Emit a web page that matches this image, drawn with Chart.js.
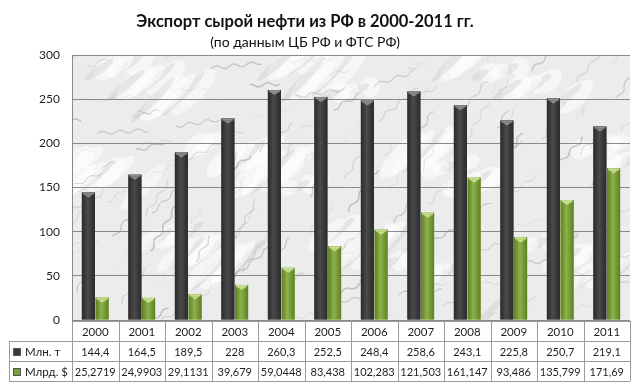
<!DOCTYPE html>
<html>
<head>
<meta charset="utf-8">
<script src="https://cdn.jsdelivr.net/npm/chart.js@4.4.1/dist/chart.umd.min.js"></script>
<style>
    html, body { margin: 0; padding: 0; background: #ffffff; }
    #wrap { width: 640px; height: 389px; position: relative; }
</style>
</head>
<body>
<div id="wrap"><canvas id="oilChart"></canvas></div>
<script>
// Data
const YEARS = ['2000', '2001', '2002', '2003', '2004', '2005', '2006', '2007', '2008', '2009', '2010', '2011'];
const MLN_T = [144.4, 164.5, 189.5, 228, 260.3, 252.5, 248.4, 258.6, 243.1, 225.8, 250.7, 219.1];
const MLRD_USD = [25.2719, 24.9903, 29.1131, 39.679, 59.0448, 83.438, 102.283, 121.503, 161.147, 93.486, 135.799, 171.69];
const SERIES_NAMES = ['Млн. т', 'Млрд. $'];
const Y_MAX = 300;
const Y_STEP = 50;
const TITLE = 'Экспорт сырой нефти из РФ в 2000-2011 гг.';
const SUBTITLE = '(по данным ЦБ РФ и ФТС РФ)';

const FONT = 'Lato, "Open Sans", sans-serif';

// Bar colours
const BAR_STYLES = [
    { edge: '#2a2a2a', mid: '#4a4a4a', cap: '#8c8c8c', key: '#3a3a3a' },
    { edge: '#5f7f24', mid: '#8db24a', cap: '#c4de8e', key: '#77a03a' }
];

// Marble-like texture for the plot area (decoration only)
function makeMarble(w, h) {
    const c = document.createElement('canvas');
    c.width = w; c.height = h;
    const g = c.getContext('2d');
    g.fillStyle = '#ececec';
    g.fillRect(0, 0, w, h);
    // cloudy patches
    for (let k = 0; k < 140; k++) {
        const cx = (k * 137) % w;
        const cy = (k * 71 + (k % 5) * 17) % h;
        g.fillStyle = k % 3 === 0 ? 'rgba(175,175,175,0.22)' : 'rgba(255,255,255,0.5)';
        g.beginPath();
        g.ellipse(cx, cy, 10 + (k % 4) * 7, 4 + (k % 3) * 3, -0.5 - (k % 4) * 0.1, 0, Math.PI * 2);
        g.fill();
    }
    // short wiggly veins
    for (let k = 0; k < 160; k++) {
        const x0 = (k * 89) % (w + 60) - 30;
        const y0 = (k * 47 + (k % 7) * 13) % (h + 30);
        g.beginPath();
        g.lineWidth = 0.5 + (k % 3) * 0.5;
        g.strokeStyle = 'rgba(90,90,90,' + (0.1 + (k % 5) * 0.05) + ')';
        const len = 4 + (k % 6) * 2;
        const ang = -0.55 + Math.sin(k * 1.9) * 0.5;
        let px = x0, py = y0;
        g.moveTo(px, py);
        for (let t = 1; t <= len; t++) {
            const a = ang + Math.sin(t * 1.3 + k * 0.7) * 0.6;
            px += Math.cos(a) * 4;
            py += Math.sin(a) * 4;
            g.lineTo(px, py);
        }
        g.stroke();
    }
    return c;
}

const marbleBg = {
    id: 'marbleBg',
    beforeDraw(chart) {
        const { ctx, chartArea: a } = chart;
        const w = Math.ceil(a.right - a.left), h = Math.ceil(a.bottom - a.top);
        if (!chart.$marble) chart.$marble = makeMarble(w, h);
        ctx.drawImage(chart.$marble, a.left, a.top);
    }
};

// cylinder shading and top caps on every bar
const barShade = {
    id: 'barShade',
    afterDatasetsDraw(chart) {
        const ctx = chart.ctx;
        chart.data.datasets.forEach((ds, di) => {
            const st = BAR_STYLES[di];
            chart.getDatasetMeta(di).data.forEach(bar => {
                const p = bar.getProps(['x', 'y', 'base', 'width'], true);
                const l = p.x - p.width / 2;
                const r = p.x + p.width / 2;
                const grad = ctx.createLinearGradient(l, 0, r, 0);
                grad.addColorStop(0, st.edge);
                grad.addColorStop(0.45, st.mid);
                grad.addColorStop(1, st.edge);
                ctx.save();
                ctx.fillStyle = grad;
                ctx.fillRect(l, p.y, p.width, p.base - p.y);
                ctx.fillStyle = st.cap;
                ctx.fillRect(l + 1, p.y, p.width - 2, 2);
                ctx.beginPath();
                ctx.moveTo(l + 2, p.y + 2);
                ctx.lineTo(r - 2, p.y + 2);
                ctx.lineTo(p.x, p.y + 5);
                ctx.closePath();
                ctx.fill();
                ctx.restore();
            });
        });
    }
};

function fmt(v) {
    return String(v).replace('.', ',');
}

// data table under the plot
const dataTable = {
    id: 'dataTable',
    afterDraw(chart) {
        const { ctx, chartArea: a } = chart;
        const xs = chart.scales.x;
        const colW = (xs.right - xs.left) / YEARS.length;
        const rowH = 20;
        const top = a.bottom + 1;
        const labelLeft = 9;
        ctx.save();
        ctx.strokeStyle = '#9a9a9a';
        ctx.lineWidth = 1;
        ctx.beginPath();
        ctx.moveTo(xs.left, top + 0.5); ctx.lineTo(xs.right, top + 0.5);
        for (let r = 1; r <= 3; r++) {
            const y = Math.round(top + r * rowH) + 0.5;
            ctx.moveTo(labelLeft, y); ctx.lineTo(xs.right, y);
        }
        for (let c = 0; c <= YEARS.length; c++) {
            const x = Math.round(xs.left + c * colW) + 0.5;
            ctx.moveTo(x, top); ctx.lineTo(x, top + 3 * rowH);
        }
        ctx.moveTo(labelLeft + 0.5, top + rowH); ctx.lineTo(labelLeft + 0.5, top + 3 * rowH);
        ctx.stroke();

        ctx.fillStyle = '#1e1e1e';
        ctx.textAlign = 'center';
        ctx.textBaseline = 'middle';
        const rows = [YEARS, MLN_T.map(fmt), MLRD_USD.map(fmt)];
        rows.forEach((vals, r) => {
            const yc = top + r * rowH + rowH / 2 + 1;
            ctx.font = (r === 0 ? '11.5px ' : '11px ') + FONT;
            vals.forEach((v, i) => {
                ctx.fillText(v, xs.getPixelForValue(i), yc);
            });
        });
        ctx.font = '11.5px ' + FONT;
        SERIES_NAMES.forEach((name, i) => {
            const yc = top + (i + 1) * rowH + rowH / 2 + 1;
            ctx.fillStyle = BAR_STYLES[i].key;
            ctx.fillRect(13, yc - 4, 8, 8);
            ctx.strokeStyle = '#555';
            ctx.strokeRect(13.5, yc - 3.5, 7, 7);
            ctx.fillStyle = '#1e1e1e';
            ctx.textAlign = 'left';
            ctx.fillText(name, 25, yc);
        });
        ctx.restore();
    }
};

const titles = {
    id: 'titles',
    afterDraw(chart) {
        const ctx = chart.ctx;
        ctx.save();
        ctx.fillStyle = '#111';
        ctx.textAlign = 'center';
        ctx.textBaseline = 'middle';
        ctx.font = 'bold 16.5px ' + FONT;
        ctx.fillText(TITLE, 305, 22);
        ctx.font = '14px ' + FONT;
        ctx.fillText(SUBTITLE, 305, 42);
        ctx.restore();
    }
};

function renderChart() {
    const ctx = document.getElementById('oilChart').getContext('2d');
    new Chart(ctx, {
        type: 'bar',
        data: {
            labels: YEARS,
            datasets: [
                {
                    label: SERIES_NAMES[0],
                    data: MLN_T,
                    backgroundColor: BAR_STYLES[0].mid,
                    categoryPercentage: 0.59,
                    barPercentage: 0.95
                },
                {
                    label: SERIES_NAMES[1],
                    data: MLRD_USD,
                    backgroundColor: BAR_STYLES[1].mid,
                    categoryPercentage: 0.59,
                    barPercentage: 0.95
                }
            ]
        },
        options: {
            responsive: true,
            maintainAspectRatio: false,
            animation: false,
            layout: { padding: { top: 55, bottom: 69, left: 0, right: 10 } },
            plugins: {
                legend: { display: false },
                tooltip: { enabled: false }
            },
            scales: {
                x: { display: false },
                y: {
                    min: 0,
                    max: Y_MAX,
                    ticks: {
                        stepSize: Y_STEP,
                        padding: 12,
                        color: '#1e1e1e',
                        font: { family: FONT, size: 12 }
                    },
                    grid: { color: '#8a8a8a', drawTicks: false },
                    border: { display: true, color: '#8a8a8a' },
                    afterFit: scale => { scale.width = 72; }
                }
            }
        },
        plugins: [marbleBg, barShade, dataTable, titles]
    });
}

document.addEventListener('DOMContentLoaded', renderChart);
</script>
</body>
</html>
